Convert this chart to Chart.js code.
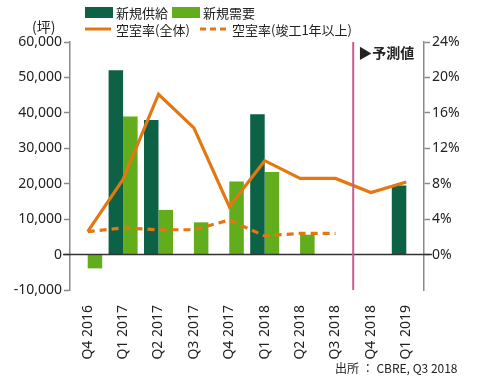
<!DOCTYPE html>
<html>
<head>
<meta charset="utf-8">
<script src="https://cdn.jsdelivr.net/npm/chart.js@4.4.1/dist/chart.umd.min.js"></script>
<style>
html,body{margin:0;padding:0;background:#fff;}
#wrap{position:relative;width:500px;height:385px;}
</style>
</head>
<body>
<div id="wrap"><canvas id="c" width="500" height="385"></canvas></div>
<script>
const categories = ['Q4 2016','Q1 2017','Q2 2017','Q3 2017','Q4 2017','Q1 2018','Q2 2018','Q3 2018','Q4 2018','Q1 2019'];
const newSupply = [null, 52000, 38000, null, null, 39600, null, null, null, 19500];
const newDemand = [-3900, 39000, 12600, 9100, 20600, 23300, 5600, null, null, null];
const vacancyAll = [2.6, 8.5, 18.1, 14.3, 5.4, 10.6, 8.6, 8.6, 7.0, 8.2];
const vacancyOld = [2.6, 3.0, 2.8, 2.8, 3.9, 2.1, 2.4, 2.4, null, null];
const leftTicks = [-10000, 0, 10000, 20000, 30000, 40000, 50000, 60000];
const rightTicks = [0, 4, 8, 12, 16, 20, 24];
const labels = {
  supply: '新規供給', demand: '新規需要', all: '空室率(全体)', old: '空室率(竣工1年以上)',
  unit: '(坪)', forecast: '▶予測値', source: '出所 ： CBRE, Q3 2018'
};

const C_DARK = '#0d6245';
const C_LIGHT = '#62ad1b';
const C_ORANGE = '#e2780f';
const C_AXIS = '#8a8a8a';
const FONT = "'Noto Sans', 'Noto Sans CJK JP', sans-serif";
const JFONT = "'Noto Sans CJK JP', 'Noto Sans', sans-serif";

const extras = {
  id: 'extras',
  afterDatasetsDraw(chart) {
    const ctx = chart.ctx;
    const ca = chart.chartArea;
    const x = chart.scales.x, y = chart.scales.y;
    // zero line
    const y0 = y.getPixelForValue(0);
    ctx.save();
    ctx.strokeStyle = '#333';
    ctx.lineWidth = 1.5;
    ctx.beginPath();
    ctx.moveTo(ca.left - 7, y0);
    ctx.lineTo(ca.right + 8, y0);
    ctx.stroke();
    // forecast divider
    const xd = (x.getPixelForValue(7) + x.getPixelForValue(8)) / 2;
    ctx.strokeStyle = '#c0608c';
    ctx.lineWidth = 2;
    ctx.beginPath();
    ctx.moveTo(xd, ca.top);
    ctx.lineTo(xd, ca.bottom);
    ctx.stroke();
    ctx.restore();
  },
  afterDraw(chart) {
    const ctx = chart.ctx;
    const x = chart.scales.x;
    const ca = chart.chartArea;
    ctx.save();
    ctx.fillStyle = '#222';
    ctx.textBaseline = 'middle';
    // forecast label
    ctx.font = "bold 14px " + JFONT;
    ctx.textAlign = 'left';
    const xd = (x.getPixelForValue(7) + x.getPixelForValue(8)) / 2;
    ctx.fillText(labels.forecast, xd + 5, 53);
    // unit
    ctx.font = "14px " + JFONT;
    ctx.fillText(labels.unit, 32, 27);
    // source
    ctx.font = "12px " + JFONT;
    ctx.fillText(labels.source, 335, 368);
    // legend
    const ds = chart.data.datasets;
    ctx.font = "13px " + JFONT;
    // row 1
    ctx.fillStyle = ds[0].backgroundColor;
    ctx.fillRect(85, 7, 28, 11);
    ctx.fillStyle = '#222';
    ctx.fillText(ds[0].label, 116, 13);
    ctx.fillStyle = ds[1].backgroundColor;
    ctx.fillRect(172, 7, 28, 11);
    ctx.fillStyle = '#222';
    ctx.fillText(ds[1].label, 203, 13);
    // row 2
    ctx.strokeStyle = ds[2].borderColor;
    ctx.lineWidth = 3;
    ctx.beginPath(); ctx.moveTo(85, 29); ctx.lineTo(111, 29); ctx.stroke();
    ctx.fillText(ds[2].label, 116, 30);
    ctx.setLineDash([6, 4]);
    ctx.beginPath(); ctx.moveTo(200, 29); ctx.lineTo(228, 29); ctx.stroke();
    ctx.setLineDash([]);
    ctx.fillText(ds[3].label, 232, 30);
    ctx.restore();
  }
};

new Chart(document.getElementById('c'), {
  type: 'bar',
  data: {
    labels: categories,
    datasets: [
      { type: 'bar', label: labels.supply, data: newSupply, backgroundColor: C_DARK, yAxisID: 'y', order: 2,
        categoryPercentage: 0.82, barPercentage: 1.0 },
      { type: 'bar', label: labels.demand, data: newDemand, backgroundColor: C_LIGHT, yAxisID: 'y', order: 2,
        categoryPercentage: 0.82, barPercentage: 1.0 },
      { type: 'line', label: labels.all, data: vacancyAll, borderColor: C_ORANGE, borderWidth: 3.2,
        pointRadius: 0, tension: 0, yAxisID: 'y1', order: 0, fill: false },
      { type: 'line', label: labels.old, data: vacancyOld, borderColor: C_ORANGE, borderWidth: 3.2,
        borderDash: [7, 5], pointRadius: 0, tension: 0, yAxisID: 'y1', order: 0, fill: false }
    ]
  },
  options: {
    responsive: false,
    animation: false,
    events: [],
    layout: { padding: { top: 42, left: 0, right: 0, bottom: 0 } },
    plugins: { legend: { display: false }, tooltip: { enabled: false } },
    scales: {
      x: {
        grid: { display: false },
        border: { display: false },
        ticks: { autoSkip: false, minRotation: 90, maxRotation: 90, padding: 7, color: '#222',
          font: { family: FONT, size: 14 } },
        afterFit(s) { s.height = 95; }
      },
      y: {
        position: 'left',
        min: -10000, max: 60000,
        afterBuildTicks(s) { s.ticks = leftTicks.map(v => ({ value: v })); },
        grid: { drawOnChartArea: false, tickLength: 6, tickColor: C_AXIS, tickWidth: 1.5 },
        border: { display: true, color: C_AXIS, width: 1.5 },
        ticks: { padding: 2, color: '#222', font: { family: FONT, size: 14 },
          callback: v => v.toLocaleString('en-US') },
        afterFit(s) { s.width = 70; }
      },
      y1: {
        position: 'right',
        min: -4, max: 24,
        afterBuildTicks(s) { s.ticks = [-4].concat(rightTicks).map(v => ({ value: v })); },
        grid: { drawOnChartArea: false, tickLength: 6, tickWidth: 1.5,
          tickColor: c => (c.tick && c.tick.value < 0) ? 'rgba(0,0,0,0)' : C_AXIS },
        border: { display: true, color: C_AXIS, width: 1.5 },
        ticks: { padding: 2, color: '#222', font: { family: FONT, size: 14 },
          callback: v => v < 0 ? '' : v + '%' },
        afterFit(s) { s.width = 76; }
      }
    }
  },
  plugins: [extras]
});
</script>
</body>
</html>
